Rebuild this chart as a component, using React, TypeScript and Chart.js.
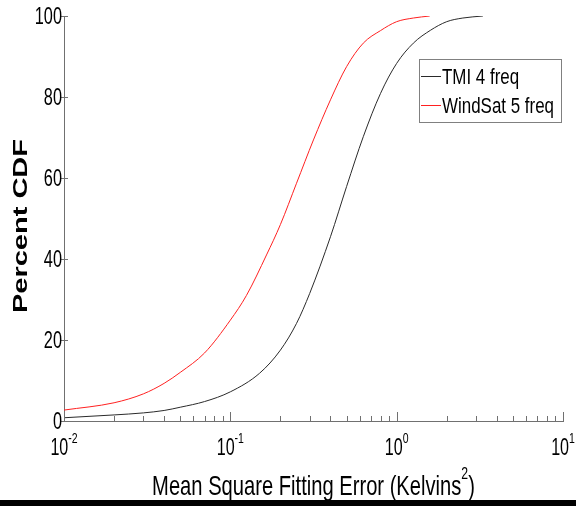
import React, { useEffect, useRef } from 'react';
import { Chart, registerables } from 'chart.js';

Chart.register(...registerables);

// TMI 4 freq (black)
const tmiX = [0.01, 0.02, 0.03, 0.04, 0.05, 0.07, 0.1, 0.15, 0.2, 0.25, 0.3, 0.4, 0.5, 0.63, 0.8, 1.0, 1.26, 1.6, 2.0, 2.5, 3.3];
const tmiY = [0.8, 1.5, 2.0, 2.6, 3.4, 4.8, 7.2, 11.8, 17.5, 24.1, 31.5, 45.5, 57.9, 70.2, 80.9, 88.3, 93.3, 96.5, 98.6, 99.5, 100];

// WindSat 5 freq (red)
const wsX = [0.01, 0.02, 0.03, 0.04, 0.05, 0.07, 0.1, 0.125, 0.165, 0.2, 0.25, 0.316, 0.4, 0.5, 0.63, 0.8, 1.0, 1.26, 1.58];
const wsY = [2.7, 4.5, 6.7, 9.3, 12.0, 16.8, 24.9, 31.0, 41.0, 48.5, 58.7, 69.4, 79.3, 87.5, 93.3, 96.4, 98.6, 99.5, 100];

const seriesNames = ['TMI 4 freq', 'WindSat 5 freq'];
const seriesColors = ['#2a2a2a', '#ff2020'];

const yTicks = [0, 20, 40, 60, 80, 100];
const xExponents = [-2, -1, 0, 1];
const xExponentLabels = ['-2', '-1', '0', '1'];
const xTitleMain = 'Mean Square Fitting Error (Kelvins';
const xTitleSup = '2';
const xTitleEnd = ')';
const yTitle = 'Percent CDF';

const FONT = '"Liberation Sans", Arial, sans-serif';
const SX = 0.7;

function drawText(ctx: CanvasRenderingContext2D, s: string, x: number, y: number, font: string, align: CanvasTextAlign, baseline: CanvasTextBaseline, sx = SX) {
  ctx.save();
  ctx.font = font;
  ctx.textAlign = align;
  ctx.textBaseline = baseline;
  ctx.fillStyle = '#000';
  ctx.translate(x, y);
  ctx.scale(sx, 1);
  ctx.fillText(s, 0, 0);
  ctx.restore();
}

function textW(ctx: CanvasRenderingContext2D, s: string, font: string, sx = SX) {
  ctx.save();
  ctx.font = font;
  const w = ctx.measureText(s).width * sx;
  ctx.restore();
  return w;
}

const decorPlugin = {
  id: 'decor',
  afterDraw(chart: any) {
    const ctx: CanvasRenderingContext2D = chart.ctx;
    const xs = chart.scales.x;
    const ys = chart.scales.y;
    const area = chart.chartArea;
    ctx.save();
    ctx.strokeStyle = '#707070';
    ctx.lineWidth = 1;

    // y ticks + labels
    const yFont = `24px ${FONT}`;
    yTicks.forEach((v) => {
      const py = Math.round(ys.getPixelForValue(v)) + 0.5;
      ctx.beginPath();
      ctx.moveTo(area.left - 3, py);
      ctx.lineTo(area.left + 4, py);
      ctx.stroke();
      drawText(ctx, String(v), area.left - 2, py + 1, yFont, 'right', 'middle', 0.68);
    });

    // x ticks
    xExponents.forEach((e) => {
      const maxM = e === xExponents[xExponents.length - 1] ? 1 : 9;
      for (let m = 1; m <= maxM; m++) {
        const px = Math.round(xs.getPixelForValue(m * Math.pow(10, e))) + 0.5;
        const len = m === 1 ? 9 : 5;
        ctx.beginPath();
        ctx.moveTo(px, area.bottom);
        ctx.lineTo(px, area.bottom - len);
        ctx.stroke();
      }
    });

    // x tick labels 10^e
    const baseFont = `23px ${FONT}`;
    const supFont = `15px ${FONT}`;
    xExponents.forEach((e, i) => {
      const px = xs.getPixelForValue(Math.pow(10, e));
      const wb = textW(ctx, '10', baseFont);
      const we = textW(ctx, xExponentLabels[i], supFont);
      const start = px - (wb + we) / 2;
      drawText(ctx, '10', start, 455, baseFont, 'left', 'alphabetic');
      drawText(ctx, xExponentLabels[i], start + wb, 443, supFont, 'left', 'alphabetic');
    });

    // x title
    const tFont = `28px ${FONT}`;
    const tSup = `17px ${FONT}`;
    const tsx = 0.72;
    const w1 = textW(ctx, xTitleMain, tFont, tsx);
    const w2 = textW(ctx, xTitleSup, tSup, tsx);
    const w3 = textW(ctx, xTitleEnd, tFont, tsx);
    const cx = (area.left + area.right) / 2;
    const sx0 = cx - (w1 + w2 + w3) / 2;
    drawText(ctx, xTitleMain, sx0, 495, tFont, 'left', 'alphabetic', tsx);
    drawText(ctx, xTitleSup, sx0 + w1, 479, tSup, 'left', 'alphabetic', tsx);
    drawText(ctx, xTitleEnd, sx0 + w1 + w2, 495, tFont, 'left', 'alphabetic', tsx);

    // y title (rotated)
    ctx.save();
    ctx.translate(27, 226);
    ctx.rotate(-Math.PI / 2);
    ctx.scale(1, 0.68);
    ctx.font = `bold 29px ${FONT}`;
    ctx.textAlign = 'center';
    ctx.textBaseline = 'alphabetic';
    ctx.fillStyle = '#000';
    ctx.fillText(yTitle, 0, 0);
    ctx.restore();

    // legend
    const lx = 419.5, ly = 59.5, lw = 142, lh = 63;
    ctx.fillStyle = '#fff';
    ctx.fillRect(lx, ly, lw, lh);
    ctx.strokeStyle = '#808080';
    ctx.strokeRect(lx, ly, lw, lh);
    const lFont = `22px ${FONT}`;
    seriesNames.forEach((name, i) => {
      const rowY = 76 + i * 29;
      ctx.strokeStyle = seriesColors[i];
      ctx.lineWidth = 1;
      ctx.beginPath();
      ctx.moveTo(421, rowY + 0.5);
      ctx.lineTo(441, rowY + 0.5);
      ctx.stroke();
      drawText(ctx, name, 442, rowY + 8, lFont, 'left', 'alphabetic', 0.77);
    });
    ctx.restore();
  },
};

export default function App() {
  const ref = useRef<HTMLCanvasElement | null>(null);
  useEffect(() => {
    if (!ref.current) return;
    const chart = new Chart(ref.current, {
      type: 'line',
      data: {
        datasets: [
          {
            label: seriesNames[0],
            data: tmiX.map((x, i) => ({ x, y: tmiY[i] })),
            borderColor: seriesColors[0],
            backgroundColor: seriesColors[0],
            borderWidth: 1,
            pointRadius: 0,
            cubicInterpolationMode: 'monotone',
            fill: false,
          },
          {
            label: seriesNames[1],
            data: wsX.map((x, i) => ({ x, y: wsY[i] })),
            borderColor: seriesColors[1],
            backgroundColor: seriesColors[1],
            borderWidth: 1,
            pointRadius: 0,
            cubicInterpolationMode: 'monotone',
            fill: false,
          },
        ],
      },
      options: {
        responsive: false,
        animation: false,
        layout: { padding: { top: 16, right: 13, left: 0, bottom: 0 } },
        plugins: { legend: { display: false }, tooltip: { enabled: false } },
        scales: {
          x: {
            type: 'logarithmic',
            min: 0.01,
            max: 10,
            grid: { display: false },
            border: { color: '#707070', width: 1 },
            ticks: { display: false },
            afterFit: (s: any) => { s.height = 79; },
          },
          y: {
            type: 'linear',
            min: 0,
            max: 100,
            grid: { display: false },
            border: { color: '#707070', width: 1 },
            ticks: { display: false },
            afterFit: (s: any) => { s.width = 64; },
          },
        },
      },
      plugins: [decorPlugin],
    } as any);
    return () => chart.destroy();
  }, []);

  return (
    <div style={{ position: 'fixed', left: 0, top: 0, width: 576, height: 506, background: '#fff' }}>
      <canvas ref={ref} width={576} height={500} style={{ display: 'block', width: 576, height: 500 }} />
      <div style={{ position: 'absolute', left: 0, top: 500, width: 576, height: 6, background: '#000' }} />
    </div>
  );
}
